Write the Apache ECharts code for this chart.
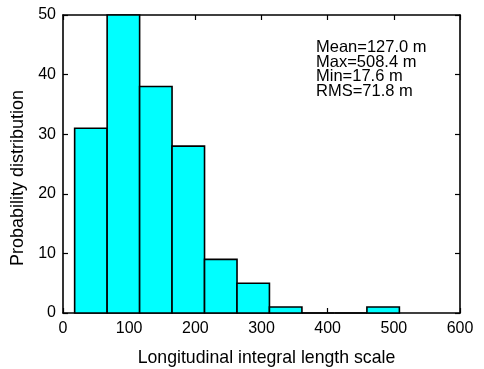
<!DOCTYPE html>
<html>
<head>
<meta charset="utf-8">
<script src="https://cdn.jsdelivr.net/npm/echarts@6/dist/echarts.min.js"></script>
<style>
html,body{margin:0;padding:0;background:#fff;}
#chart{width:484px;height:369px;}
</style>
</head>
<body>
<div id="chart"></div>
<script>
// Histogram bin edges (m) and counts
var binEdges = [17.6, 66.7, 115.8, 164.8, 213.9, 263.0, 312.0, 361.1, 410.2, 459.3, 508.4];
var counts = [31, 50, 38, 28, 9, 5, 1, 0, 0, 1];
var xTicks = [0, 100, 200, 300, 400, 500, 600];
var yTicks = [0, 10, 20, 30, 40, 50];
var statsLines = ["Mean=127.0 m", "Max=508.4 m", "Min=17.6 m", "RMS=71.8 m"];
var xLabel = "Longitudinal integral length scale";
var yLabel = "Probability distribution";

var FONT = '"Liberation Sans", Arial, sans-serif';
var chart = echarts.init(document.getElementById('chart'), null, {renderer: 'canvas'});

var histData = counts.map(function (c, i) { return [binEdges[i], binEdges[i + 1], c]; });

var gridL = 63, gridR = 24, gridT = 15, gridB = 56;

function axisCommon(extra) {
  var base = {
    type: 'value',
    axisLine: {show: true, onZero: false, lineStyle: {color: '#000', width: 1.6}},
    axisTick: {show: true, inside: true, length: 5, lineStyle: {color: '#000', width: 1.2}},
    splitLine: {show: false},
    axisLabel: {color: '#000', fontFamily: FONT, fontSize: 16}
  };
  for (var k in extra) base[k] = extra[k];
  return base;
}

var option = {
  animation: false,
  backgroundColor: '#fff',
  grid: {left: gridL, right: gridR, top: gridT, bottom: gridB, containLabel: false, outerBoundsMode: 'none'},
  xAxis: [
    axisCommon({
      position: 'bottom', min: xTicks[0], max: xTicks[xTicks.length - 1], interval: 100,
      name: xLabel, nameLocation: 'middle', nameGap: 36,
      nameTextStyle: {color: '#000', fontFamily: FONT, fontSize: 17.7, padding: [0, 0, 0, 10]},
      axisLabel: {color: '#000', fontFamily: FONT, fontSize: 16, margin: 8}
    }),
    axisCommon({
      position: 'top', min: xTicks[0], max: xTicks[xTicks.length - 1], interval: 100,
      axisLabel: {show: false}
    })
  ],
  yAxis: [
    axisCommon({
      position: 'left', min: yTicks[0], max: yTicks[yTicks.length - 1], interval: 10,
      name: yLabel, nameLocation: 'middle', nameGap: 31,
      nameTextStyle: {color: '#000', fontFamily: FONT, fontSize: 18, padding: [0, 28, 0, 0]},
      axisLabel: {color: '#000', fontFamily: FONT, fontSize: 16, margin: 7}
    }),
    axisCommon({
      position: 'right', min: yTicks[0], max: yTicks[yTicks.length - 1], interval: 10,
      axisLabel: {show: false}
    })
  ],
  series: [{
    type: 'custom',
    xAxisIndex: 0,
    yAxisIndex: 0,
    encode: {x: [0, 1], y: 2},
    data: histData,
    renderItem: function (params, api) {
      var p0 = api.coord([api.value(0), api.value(2)]);
      var p1 = api.coord([api.value(1), 0]);
      return {
        type: 'rect',
        shape: {x: p0[0], y: p0[1], width: p1[0] - p0[0], height: p1[1] - p0[1]},
        style: {fill: '#00FFFF', stroke: '#000', lineWidth: 1.6}
      };
    }
  }],
  graphic: statsLines.map(function (t, i) {
    return {
      type: 'text',
      left: 316,
      top: 39 + i * 14.5,
      z: 100,
      style: {text: t, fill: '#000', font: '16.5px ' + FONT}
    };
  })
};
chart.setOption(option);
</script>
</body>
</html>
